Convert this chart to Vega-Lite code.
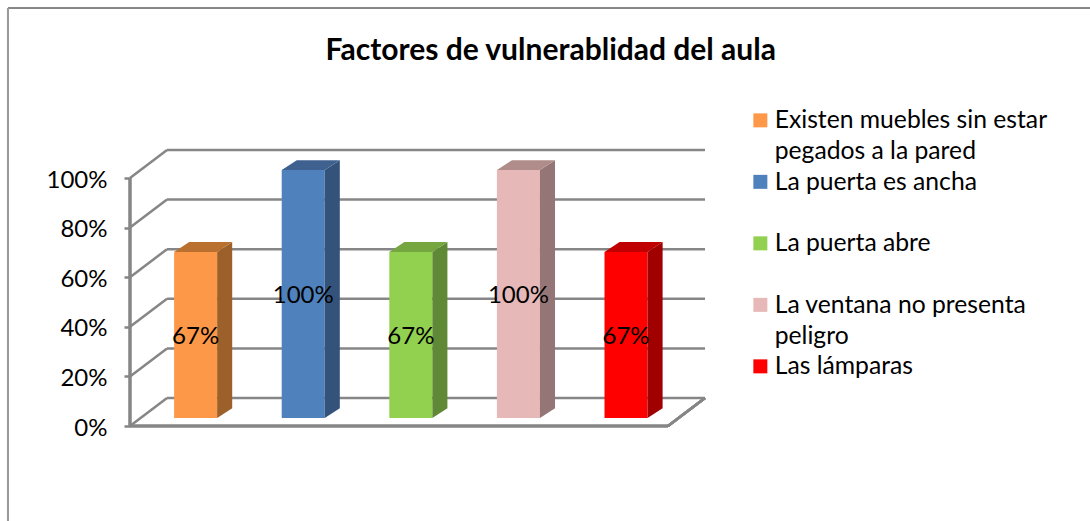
{
"$schema":"https://vega.github.io/schema/vega-lite/v6.json",
"autosize":"none",
"padding":{"left":130,"top":150,"right":385,"bottom":95},
"width":575,
"height":276,
"background":"white",
"config":{"view":{"stroke":null},"font":"Lato"},
"title":{"text":"Factores de vulnerablidad del aula","anchor":"start","frame":"group","dx":195.5,"offset":-59,"fontSize":30,"fontWeight":"bold","font":"Lato","color":"#000000"},
"data":{"values":[
{"factor":"Existen muebles sin estar pegados a la pared","value":67,"idx":0},
{"factor":"La puerta es ancha","value":100,"idx":1},
{"factor":"La puerta abre","value":67,"idx":2},
{"factor":"La ventana no presenta peligro","value":100,"idx":3},
{"factor":"Las lámparas","value":67,"idx":4}
]},
"layer":[
{"data":{"values":[{"v":0},{"v":20},{"v":40},{"v":60},{"v":80},{"v":100}]},
 "mark":{"type":"rule","stroke":"#868686","strokeWidth":2.5,"clip":false},
 "encoding":{"x":{"datum":0.344,"type":"quantitative","scale":{"domain":[0,5.344],"nice":false,"zero":false},"axis":null},"x2":{"datum":5.344},"y":{"field":"b","type":"quantitative"},"y2":{"field":"b"}},
 "transform":[{"calculate":"datum.v+11.3","as":"b"}]},
{"data":{"values":[{"v":0},{"v":20},{"v":40},{"v":60},{"v":80},{"v":100}]},
 "transform":[{"calculate":"datum.v+11.3","as":"b"}],
 "mark":{"type":"rule","stroke":"#868686","strokeWidth":2.5,"clip":false},
 "encoding":{"x":{"datum":0},"x2":{"datum":0.344},"y":{"field":"v","type":"quantitative","scale":{"domain":[0,111.3],"nice":false},"axis":{"values":[0,20,40,60,80,100],"labelExpr":"datum.value+'%'","title":null,"grid":false,"domain":false,"tickColor":"#868686","tickSize":6,"tickWidth":2.5,"labelFontSize":24,"labelFont":"Lato","labelColor":"#000000","labelPadding":17,"labelOffset":2}},"y2":{"field":"b"}}},
{"mark":{"type":"rule","stroke":"#868686","strokeWidth":2.5},
 "encoding":{"x":{"datum":0},"y":{"datum":0},"y2":{"datum":100}}},
{"mark":{"type":"rule","stroke":"#868686","strokeWidth":2.5},
 "encoding":{"x":{"datum":0},"x2":{"datum":5},"y":{"datum":0}}},
{"mark":{"type":"rule","stroke":"#868686","strokeWidth":2.5},
 "encoding":{"x":{"datum":5},"x2":{"datum":5.344},"y":{"datum":0},"y2":{"datum":11.3}}},
{"mark":{"type":"rule","stroke":"#868686","strokeWidth":1.5,"clip":false},
 "encoding":{"x":{"datum":-1.134},"x2":{"datum":8.93},"y":{"datum":168.5}}},
{"mark":{"type":"rule","stroke":"#9a9a9a","strokeWidth":2,"clip":false},
 "encoding":{"x":{"datum":-1.134},"y":{"datum":168.5},"y2":{"datum":-38.5}}},
{"transform":[{"calculate":"datum.idx+0.41","as":"x0"},{"calculate":"datum.idx+0.81","as":"x1"},{"calculate":"datum.value+3.2","as":"top"},{"calculate":"3.2","as":"base"}],
 "mark":{"type":"rect"},
 "encoding":{"x":{"field":"x0","type":"quantitative"},"x2":{"field":"x1"},"y":{"field":"base","type":"quantitative"},"y2":{"field":"top"},
  "color":{"field":"factor","type":"nominal","scale":{"domain":["Existen muebles sin estar pegados a la pared","La puerta es ancha","La puerta abre","La ventana no presenta peligro","Las lámparas","s0","s1","s2","s3","s4","t0","t1","t2","t3","t4"],"range":["#FD9848","#4F81BD","#92D050","#E6B8B7","#FF0000","#9C602A","#34537A","#5F8935","#957676","#A00000","#BA7130","#3F6190","#75A640","#B08C8A","#C00000"]},
   "legend":{"orient":"none","legendX":618,"legendY":-42,"title":null,"values":["Existen muebles sin estar pegados a la pared","La puerta es ancha","La puerta abre","La ventana no presenta peligro","Las lámparas"],"symbolType":"square","symbolSize":196,"symbolStrokeWidth":0,"labelFontSize":24.7,"labelFont":"Lato","labelColor":"#000000","labelLimit":400,"rowPadding":4.5,"labelOffset":2,"labelBaseline":"alphabetic",
    "labelExpr":"datum.label=='Existen muebles sin estar pegados a la pared'?['Existen muebles sin estar','pegados a la pared']:datum.label=='La ventana no presenta peligro'?['La ventana no presenta','peligro']:[datum.label,' ']",
    "encode":{"labels":{"update":{"lineHeight":{"value":31},"dy":{"value":8}}}}}}}},
{"transform":[{"calculate":"[0,1]","as":"c"},{"flatten":["c"]},
 {"calculate":"datum.idx+0.81+datum.c*0.14","as":"sx"},
 {"calculate":"3.2+datum.c*4","as":"sy"},
 {"calculate":"datum.value+3.2+datum.c*4","as":"sy2"},
 {"calculate":"'s'+datum.idx","as":"key"}],
 "mark":{"type":"area","opacity":1},
 "encoding":{"x":{"field":"sx","type":"quantitative"},"y":{"field":"sy","type":"quantitative"},"y2":{"field":"sy2"},"detail":{"field":"factor"},
  "color":{"field":"key","type":"nominal"}}},
{"transform":[{"calculate":"[0,1,2,3]","as":"c"},{"flatten":["c"]},
 {"calculate":"datum.idx+0.41+[0,0.14,0.40,0.54][datum.c]","as":"tx"},
 {"calculate":"datum.value+3.2+[0,4,4,4][datum.c]","as":"ty"},
 {"calculate":"datum.value+3.2+[0,0,0,4][datum.c]","as":"ty2"},
 {"calculate":"'t'+datum.idx","as":"key"}],
 "mark":{"type":"area","opacity":1},
 "encoding":{"x":{"field":"tx","type":"quantitative"},"y":{"field":"ty","type":"quantitative"},"y2":{"field":"ty2"},"detail":{"field":"factor"},
  "color":{"field":"key","type":"nominal"}}},
{"transform":[{"calculate":"datum.idx+0.61","as":"cx"},{"calculate":"3.2+datum.value/2","as":"cy"},{"calculate":"datum.value+'%'","as":"lab"}],
 "mark":{"type":"text","fontSize":24,"font":"Lato","color":"#000000","dy":2},
 "encoding":{"x":{"field":"cx","type":"quantitative"},"y":{"field":"cy","type":"quantitative"},"text":{"field":"lab"}}}
]
}
